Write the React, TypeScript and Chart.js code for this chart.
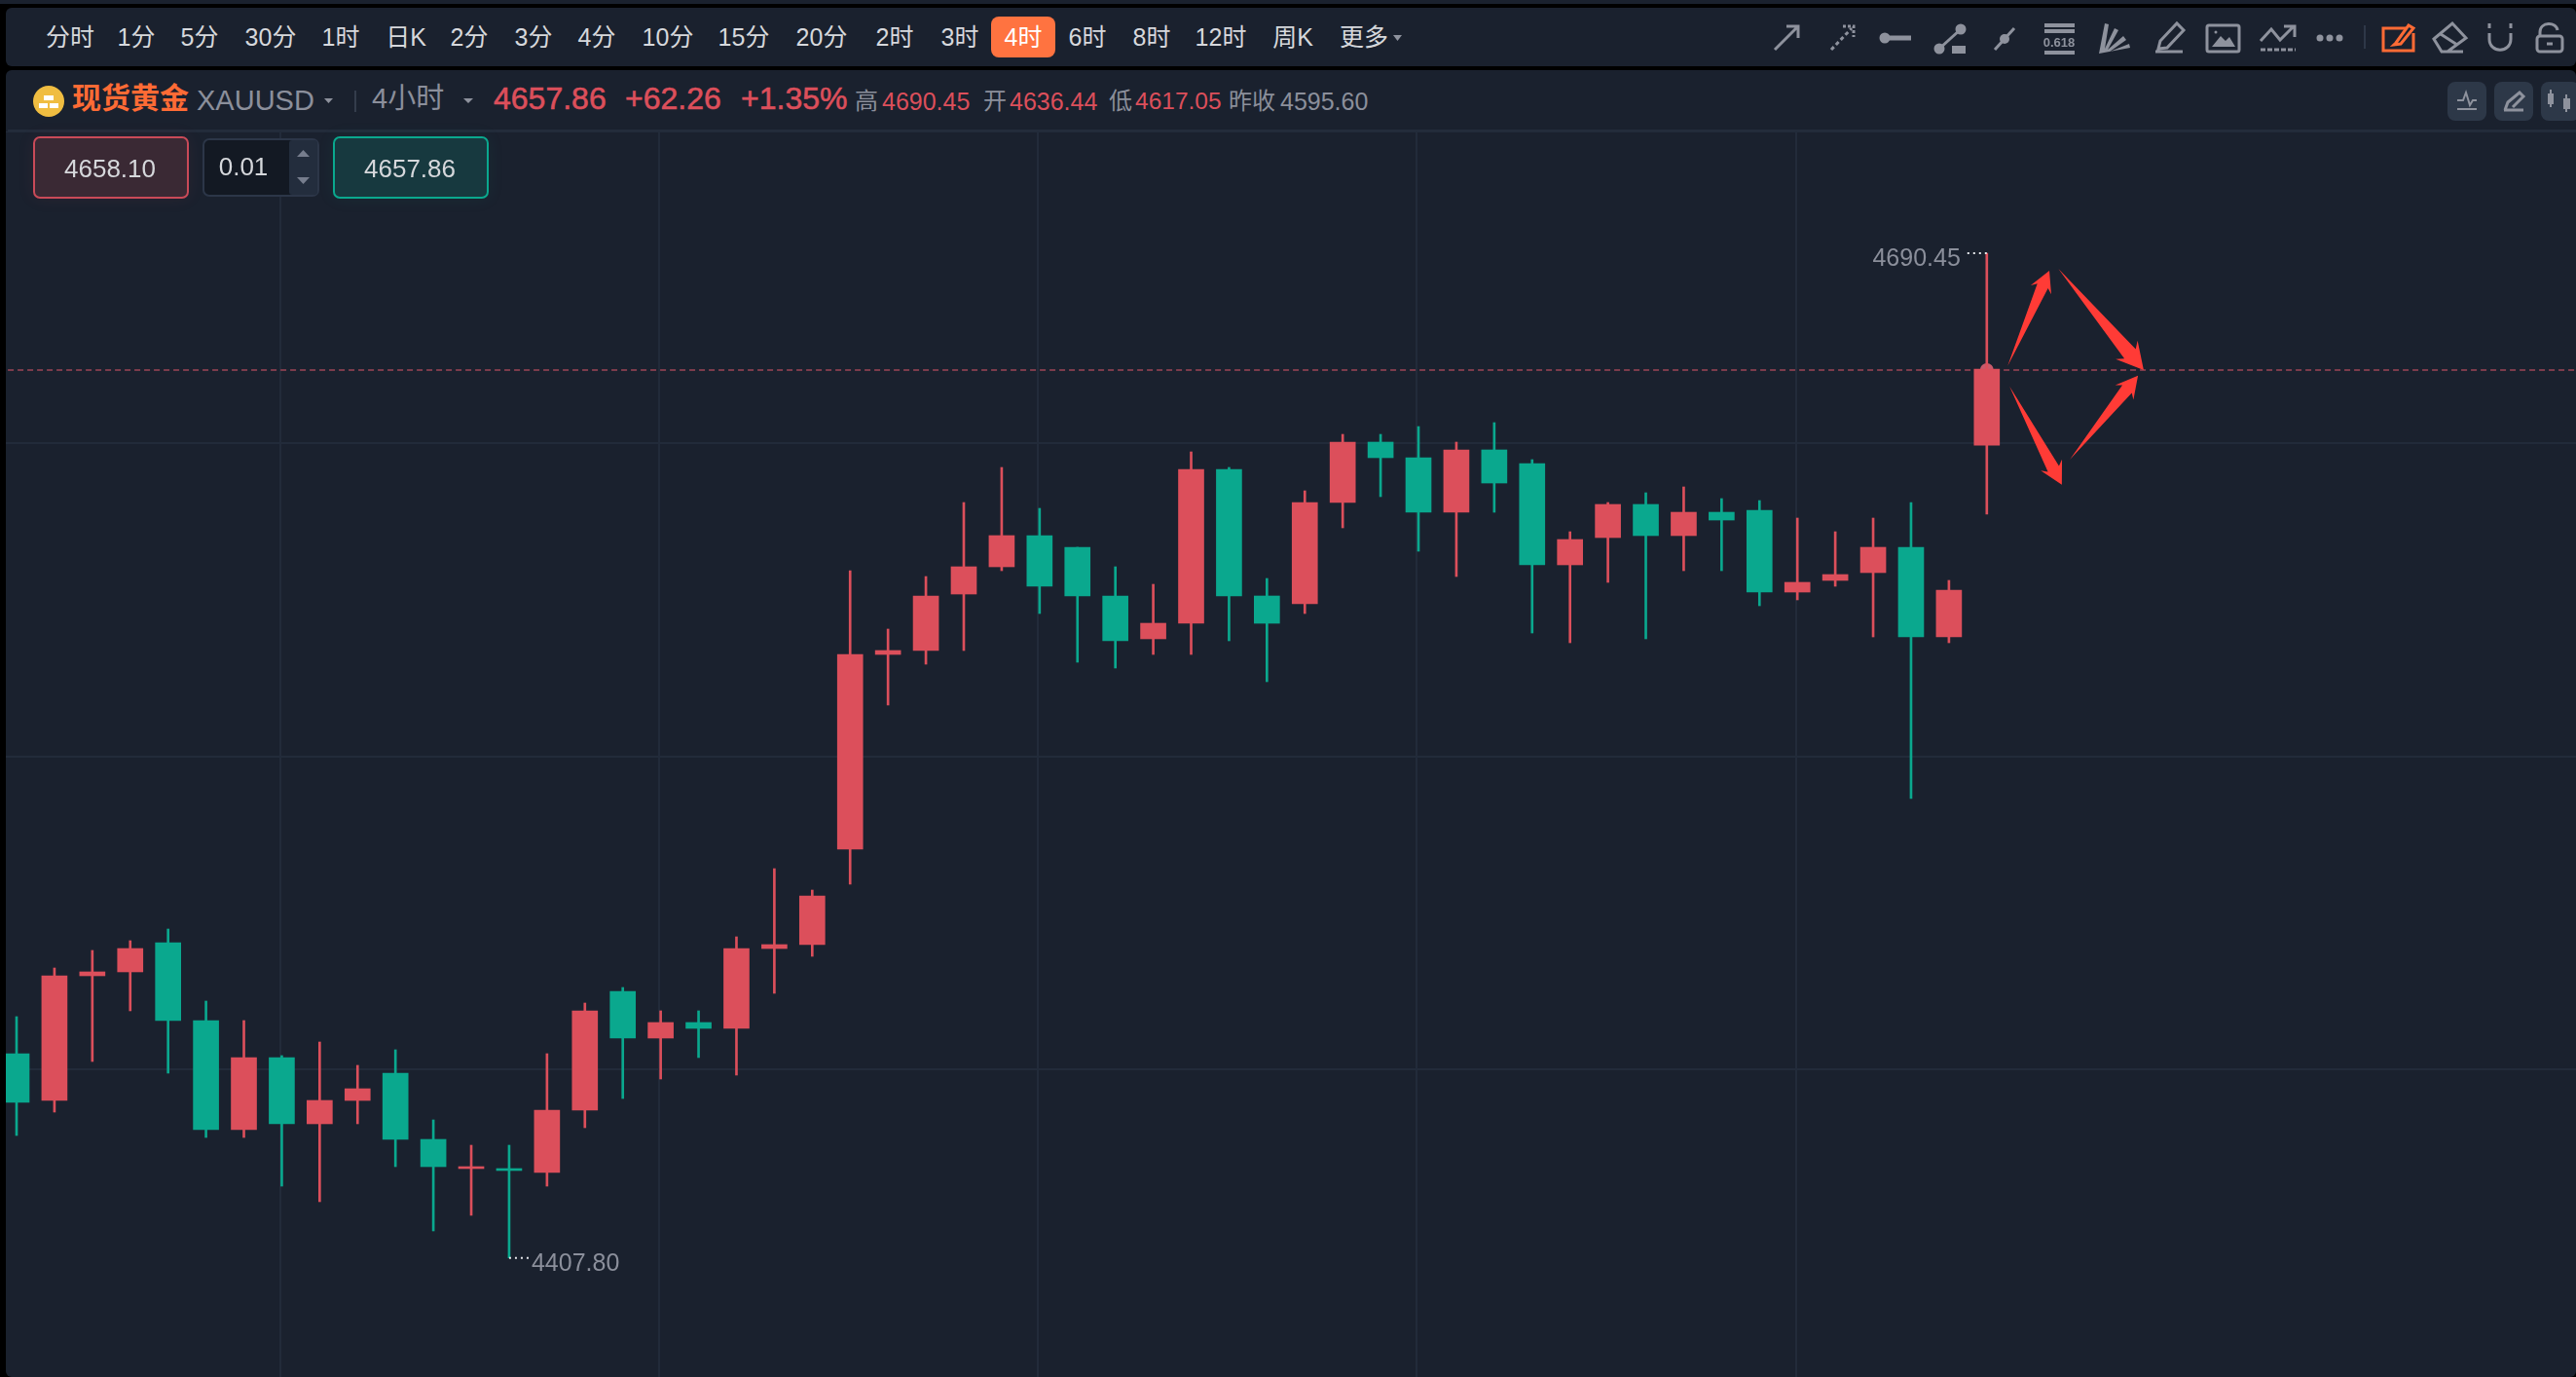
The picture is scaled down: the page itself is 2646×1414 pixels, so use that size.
import { useEffect, useRef } from "react"
import { Chart, registerables } from "chart.js"

Chart.register(...registerables)

const BG = "#1a212e"
const RED = "#dc4f5b"
const GREEN = "#0aa88e"
const GRAY = "#8b8f9b"
const TEXT = "#d6d8dc"
const ORANGE = "#ff6b35"
const ICON = "#8e929d"
const FONT = '"Liberation Sans", "Noto Sans CJK SC", sans-serif'

// 4 hour candles, oldest first
const opens = [
  4465.24, 4452.09, 4487.16, 4488.26, 4496.48, 4474.56, 4443.87, 4464.15, 4445.52, 4452.09,
  4459.77, 4441.13, 4432.92, 4432.92, 4431.82, 4449.35, 4482.78, 4469.63, 4474.01, 4472.37,
  4494.83, 4495.93, 4522.78, 4577.57, 4578.67, 4594.56, 4602.23, 4611.0, 4607.71, 4594.01,
  4581.96, 4586.34, 4629.63, 4594.01, 4591.82, 4620.31, 4637.3, 4632.92, 4617.57, 4635.11,
  4631.27, 4602.78, 4610.45, 4619.77, 4611.0, 4617.57, 4618.12, 4595.11, 4598.4, 4600.59,
  4607.71, 4582.5, 4636.44,
]
const closes = [
  4451.55, 4487.16, 4488.26, 4494.83, 4474.56, 4443.87, 4464.15, 4445.52, 4452.09, 4455.38,
  4441.13, 4433.46, 4433.46, 4432.37, 4449.35, 4477.3, 4469.63, 4474.01, 4472.37, 4494.83,
  4495.93, 4509.63, 4577.57, 4578.67, 4594.01, 4602.23, 4611.0, 4596.75, 4594.01, 4581.41,
  4586.34, 4629.63, 4594.01, 4586.34, 4620.31, 4637.3, 4632.92, 4617.57, 4635.11, 4625.79,
  4602.78, 4609.9, 4619.77, 4611.0, 4617.57, 4615.38, 4595.11, 4597.85, 4600.04, 4607.71,
  4582.5, 4595.66, 4657.86,
]
const highs = [
  4475.66, 4489.35, 4494.29, 4497.03, 4500.31, 4480.04, 4474.56, 4464.7, 4468.53, 4461.96,
  4466.34, 4446.61, 4439.49, 4439.49, 4465.24, 4479.49, 4483.87, 4477.3, 4477.3, 4498.12,
  4517.3, 4511.27, 4601.13, 4584.7, 4599.49, 4620.31, 4630.18, 4618.67, 4607.71, 4602.23,
  4597.3, 4634.56, 4630.18, 4598.94, 4623.6, 4639.49, 4639.49, 4641.68, 4637.3, 4642.78,
  4632.37, 4612.09, 4620.31, 4623.05, 4624.7, 4621.41, 4620.86, 4615.93, 4612.09, 4615.93,
  4620.31, 4598.4, 4690.45,
]
const lows = [
  4442.23, 4448.81, 4463.05, 4477.3, 4459.77, 4441.68, 4441.68, 4427.98, 4423.6, 4445.52,
  4433.46, 4415.38, 4419.77, 4407.8, 4427.98, 4444.42, 4452.64, 4458.12, 4464.15, 4459.22,
  4482.23, 4492.64, 4512.92, 4563.33, 4574.83, 4578.67, 4601.13, 4589.08, 4575.38, 4573.74,
  4577.57, 4577.57, 4581.41, 4569.9, 4589.08, 4613.19, 4621.96, 4606.61, 4599.49, 4617.57,
  4583.6, 4580.86, 4597.85, 4581.96, 4601.13, 4601.13, 4591.27, 4592.92, 4596.75, 4582.5,
  4537.03, 4580.86, 4617.05,
]
const candleIndex = opens.map((_, i) => i)

const lastPrice = 4657.57
const highIndex = 52
const highPrice = 4690.45
const lowIndex = 13
const lowPrice = 4407.8

const xGridIndex = [6.96, 16.96, 26.96, 36.96, 46.96]
const yGridPrices = [4724.7, 4636.9, 4548.9, 4460.9]

// hand drawn arrows: [tail index, tail price, tip index, tip price]
const arrows = [
  [52.55, 4658.75, 53.65, 4685.52],
  [53.89, 4686.07, 56.14, 4657.57],
  [52.6, 4653.0, 53.98, 4625.33],
  [54.19, 4632.37, 55.99, 4656.01],
]

const tabLabels = ["分时", "1分", "5分", "30分", "1时", "日K", "2分", "3分", "4分", "10分", "15分", "20分", "2时", "3时", "4时", "6时", "8时", "12时", "周K", "更多"]
const tabCenters = [72, 140, 205, 278, 350, 417, 482, 548, 613, 686, 764, 844, 919, 986, 1051, 1117, 1183, 1254, 1328, 1401]

const annotations = {
  id: "annotations",
  afterDatasetsDraw(chart: Chart) {
    const { ctx, scales } = chart
    const x = scales.x
    const y = scales.y

    ctx.save()
    // high / low labels with their dotted leaders
    const hx = x.getPixelForValue(highIndex)
    const hy = y.getPixelForValue(highPrice)
    const lx = x.getPixelForValue(lowIndex)
    const ly = y.getPixelForValue(lowPrice)
    ctx.strokeStyle = "#e4e6ea"
    ctx.lineWidth = 2
    ctx.setLineDash([2, 4])
    ctx.beginPath()
    ctx.moveTo(hx - 20, hy)
    ctx.lineTo(hx, hy)
    ctx.moveTo(lx, ly)
    ctx.lineTo(lx + 21, ly)
    ctx.stroke()
    ctx.setLineDash([])
    ctx.fillStyle = GRAY
    ctx.font = `25px ${FONT}`
    ctx.textBaseline = "middle"
    ctx.textAlign = "right"
    ctx.fillText(highPrice.toFixed(2), hx - 27, hy + 6)
    ctx.textAlign = "left"
    ctx.fillText(lowPrice.toFixed(2), lx + 23, ly + 6)

    // the four red arrows, head size follows arrow length
    ctx.fillStyle = "#ff3b36"
    arrows.forEach(([ti, tp, hi, hp]) => {
      const x0 = x.getPixelForValue(ti)
      const y0 = y.getPixelForValue(tp)
      const x1 = x.getPixelForValue(hi)
      const y1 = y.getPixelForValue(hp)
      const dx = x1 - x0
      const dy = y1 - y0
      const len = Math.hypot(dx, dy)
      const ux = dx / len
      const uy = dy / len
      const at = (back: number, side: number): [number, number] => [
        x1 - ux * back * len - uy * side * len,
        y1 - uy * back * len + ux * side * len,
      ]
      ctx.beginPath()
      ctx.moveTo(x0, y0)
      ctx.lineTo(...at(0.16, 0.056))
      ctx.lineTo(...at(0.2, 0.108))
      ctx.lineTo(x1, y1)
      ctx.lineTo(...at(0.2, -0.108))
      ctx.lineTo(...at(0.16, -0.056))
      ctx.closePath()
      ctx.fill()
    })
    ctx.restore()
  },
}

function CandleChart() {
  const chartRef = useRef<HTMLCanvasElement>(null)

  useEffect(() => {
    if (!chartRef.current) return

    const candleColors = closes.map((c, i) => (c >= opens[i] ? RED : GREEN))
    const chart = new Chart(chartRef.current, {
      type: "bar",
      data: {
        labels: candleIndex,
        datasets: [
          {
            type: "line",
            data: [
              { x: -1, y: lastPrice },
              { x: 68, y: lastPrice },
            ],
            borderColor: "#7c3c4c",
            borderWidth: 2,
            borderDash: [6, 4],
            pointRadius: 0,
            order: 5,
          },
          {
            type: "line",
            data: [{ x: highIndex, y: lastPrice }],
            showLine: false,
            pointRadius: 7,
            pointBorderWidth: 0,
            pointBackgroundColor: "#c95a6b",
            order: 4,
          },
          {
            data: lows.map((l, i) => [l, highs[i]]),
            backgroundColor: candleColors,
            barThickness: 2,
            grouped: false,
            order: 3,
          },
          {
            data: opens.map((o, i) => [o, closes[i]]),
            backgroundColor: candleColors,
            barThickness: 26,
            grouped: false,
            order: 2,
          },
        ],
      },
      options: {
        animation: false,
        responsive: true,
        maintainAspectRatio: false,
        layout: { padding: 0, autoPadding: false },
        plugins: {
          legend: { display: false },
          tooltip: { enabled: false },
        },
        scales: {
          x: {
            type: "linear",
            offset: false,
            min: -0.2826,
            max: 67.55,
            afterBuildTicks: (axis) => {
              axis.ticks = xGridIndex.map((value) => ({ value }))
            },
            grid: { color: "#222b3a", lineWidth: 2, drawTicks: false, offset: false },
            border: { display: false },
            ticks: { display: false },
          },
          y: {
            type: "linear",
            min: 4374.28,
            max: 4724.7,
            afterBuildTicks: (axis) => {
              axis.ticks = yGridPrices.map((value) => ({ value }))
            },
            grid: { color: "#222b3a", lineWidth: 2, drawTicks: false },
            border: { display: false },
            ticks: { display: false },
          },
        },
      },
      plugins: [annotations],
    } as any)

    return () => chart.destroy()
  }, [])

  return (
    <div style={{ position: "absolute", left: 6, top: 135, width: 2640, height: 1279 }}>
      <canvas ref={chartRef} />
    </div>
  )
}

function Label(props: { x: number; y: number; size: number; color: string; bold?: boolean; center?: boolean; stroke?: boolean; children: string }) {
  const { x, y, size, color, bold, center, stroke, children } = props
  return (
    <span
      style={{
        position: "absolute",
        left: x,
        top: y,
        transform: center ? "translate(-50%, -50%)" : "translateY(-50%)",
        fontSize: size,
        lineHeight: 1,
        color,
        whiteSpace: "nowrap",
        fontWeight: bold ? 700 : 400,
        WebkitTextStroke: stroke ? `0.6px ${color}` : undefined,
      }}
    >
      {children}
    </span>
  )
}

function Box(props: { x: number; y: number; w: number; h: number; bg: string; border?: string; radius: number; shadow?: string }) {
  const { x, y, w, h, bg, border, radius, shadow } = props
  return (
    <div
      style={{
        position: "absolute",
        left: x,
        top: y,
        width: w,
        height: h,
        boxSizing: "border-box",
        background: bg,
        border: border ? `2px solid ${border}` : undefined,
        borderRadius: radius,
        boxShadow: shadow,
      }}
    />
  )
}

function Icons() {
  return (
    <svg width={2646} height={140} style={{ position: "absolute", left: 0, top: 0 }} fill="none" stroke={ICON} strokeWidth={3}>
      {/* drawing tools */}
      <path d="M1823 51L1846 28M1835 27H1847V39" />
      <path d="M1881 51L1902 29" strokeDasharray="4 3" />
      <path d="M1893 27H1904V38" strokeDasharray="3 2" />
      <path d="M1936 39H1963" strokeWidth={5} />
      <circle cx={1936} cy={39} r={4} fill={ICON} />
      <path d="M1992 50L2014 30" strokeWidth={3} />
      <circle cx={1992} cy={50} r={4} fill={ICON} />
      <circle cx={2014} cy={30} r={4} fill={ICON} />
      <rect x={2005} y={47} width={14} height={8} fill={ICON} stroke="none" />
      <path d="M2049 51L2069 29" />
      <circle cx={2059} cy={40} r={5} fill={ICON} stroke="none" />
      <path d="M2100 26H2131M2100 32H2131M2100 54H2131" strokeWidth={4} />
      <text x={2115} y={48} fontSize={13} fontWeight={700} textAnchor="middle" fill={ICON} stroke="none" fontFamily={FONT}>
        0.618
      </text>
      <path d="M2156 55L2162 24L2166 25L2162 50L2172 29L2176 31L2165 51L2181 37L2184 41L2167 53L2187 45L2188 49Z" fill={ICON} stroke="none" />
      <path d="M2219 42L2236 24L2243 31L2226 49L2217 50ZM2214 53H2242" />
      <rect x={2267} y={26} width={33} height={27} rx={2} />
      <path d="M2272 48L2281 37L2286 42L2290 38L2296 48Z" fill={ICON} stroke="none" />
      <circle cx={2276} cy={33} r={1.5} fill={ICON} stroke="none" />
      <path d="M2322 42L2333 30L2342 41L2355 28M2346 27H2357V38" />
      <path d="M2322 51H2358" strokeDasharray="5 2" />
      <circle cx={2383} cy={39} r={3.5} fill={ICON} stroke="none" />
      <circle cx={2393} cy={39} r={3.5} fill={ICON} stroke="none" />
      <circle cx={2403} cy={39} r={3.5} fill={ICON} stroke="none" />
      <path d="M2429 26V50" stroke="#2e3848" strokeWidth={2} />
      <path d="M2472 29H2448V52H2479V34" stroke={ORANGE} />
      <path d="M2461 44L2474 26L2479 29L2466 45L2459 46Z" stroke={ORANGE} />
      <path d="M2500 40L2519 24L2533 39L2514 53L2508 53ZM2507 35L2524 46M2512 53H2530" />
      <path d="M2557 24V29M2579 24V29M2557 34V40C2557 55 2579 55 2579 40V34" />
      <path d="M2609 36V33C2609 22 2626 22 2627 31" />
      <rect x={2606} y={37} width={26} height={16} rx={3} />
      <path d="M2616 45H2622" />

      {/* chart type buttons */}
      <rect x={2514} y={84} width={40} height={40} rx={8} fill="#2d3848" stroke="none" />
      <rect x={2562} y={84} width={40} height={40} rx={8} fill="#2d3848" stroke="none" />
      <rect x={2610} y={84} width={40} height={40} rx={8} fill="#2d3848" stroke="none" />
      <path d="M2524 103H2530L2533 95L2537 108L2540 103H2544M2524 112H2544" strokeWidth={2} />
      <path d="M2573 113L2576 105L2588 95L2592 99L2581 110M2572 113H2592" strokeWidth={3} />
      <path d="M2620 92V110M2636 97V115" strokeWidth={2} />
      <rect x={2617} y={96} width={6} height={11} fill={ICON} stroke="none" />
      <rect x={2633} y={101} width={7} height={11} fill={ICON} stroke="none" />

      {/* gold coin logo */}
      <circle cx={50} cy={104} r={16} fill="#f0bd41" stroke="none" />
      <rect x={45} y={98} width={10} height={5} fill="#fff" stroke="none" />
      <rect x={40} y={106} width={9} height={5} fill="#fff" stroke="none" />
      <rect x={51} y={106} width={9} height={5} fill="#fff" stroke="none" />

      {/* dropdown carets */}
      <path d="M1431 36H1440L1435.5 42Z" fill={ICON} stroke="none" />
      <path d="M333 101H342L337.5 106Z" fill={ICON} stroke="none" />
      <path d="M476 101H486L481 106Z" fill={ICON} stroke="none" />
      <path d="M365 93V115" stroke="#343d4c" strokeWidth={2} />
    </svg>
  )
}

export default function App() {
  return (
    <div style={{ position: "absolute", left: 0, top: 0, width: 2646, height: 1414, overflow: "hidden", background: "#000", fontFamily: FONT }}>
      <Box x={0} y={0} w={2646} h={4} bg={BG} radius={0} />
      <Box x={6} y={8} w={2640} h={60} bg={BG} radius={6} />
      <Box x={6} y={72} w={2640} h={1342} bg={BG} radius={6} />
      <Box x={8} y={133} w={2638} h={2} bg="#232c3b" radius={0} />

      <CandleChart />

      <Box x={1018} y={17} w={66} h={42} bg="#ff7340" radius={8} />
      {tabLabels.map((label, i) => (
        <Label key={label} x={tabCenters[i]} y={38} size={25} color={label === "4时" ? "#fff" : TEXT} center>
          {label}
        </Label>
      ))}

      <Label x={74} y={101} size={30} color={ORANGE} bold>现货黄金</Label>
      <Label x={202} y={103} size={29} color={GRAY}>XAUUSD</Label>
      <Label x={382} y={101} size={29} color={GRAY}>4小时</Label>
      <Label x={507} y={101} size={32} color={RED} stroke>4657.86</Label>
      <Label x={642} y={101} size={32} color={RED} stroke>+62.26</Label>
      <Label x={761} y={101} size={32} color={RED} stroke>+1.35%</Label>
      <Label x={878} y={104} size={24} color={GRAY}>高</Label>
      <Label x={906} y={104} size={25} color={RED}>4690.45</Label>
      <Label x={1010} y={104} size={24} color={GRAY}>开</Label>
      <Label x={1037} y={104} size={25} color={RED}>4636.44</Label>
      <Label x={1139} y={104} size={24} color={GRAY}>低</Label>
      <Label x={1166} y={104} size={24.5} color={RED}>4617.05</Label>
      <Label x={1262} y={104} size={24} color={GRAY}>昨收</Label>
      <Label x={1315} y={104} size={25} color={GRAY}>4595.60</Label>

      <Box x={34} y={140} w={160} h={64} bg="#3a2934" border="#c94a58" radius={7} shadow="0 0 18px rgba(220,79,91,0.08)" />
      <Label x={113} y={173} size={26} color={TEXT} center>4658.10</Label>
      <Box x={208} y={142} w={120} h={60} bg="#131923" border="#2c3648" radius={7} />
      <Box x={297} y={144} w={29} h={56} bg="#232d3d" radius={3} />
      <Label x={250} y={171} size={26} color={TEXT} center>0.01</Label>
      <svg width={30} height={56} style={{ position: "absolute", left: 297, top: 144 }} fill="#767d8d">
        <path d="M8 17L14.5 10L21 17Z" />
        <path d="M8 38L14.5 45L21 38Z" />
      </svg>
      <Box x={342} y={140} w={160} h={64} bg="#17393f" border={GREEN} radius={7} shadow="0 0 18px rgba(10,168,142,0.08)" />
      <Label x={421} y={173} size={26} color={TEXT} center>4657.86</Label>

      <Icons />
    </div>
  )
}
